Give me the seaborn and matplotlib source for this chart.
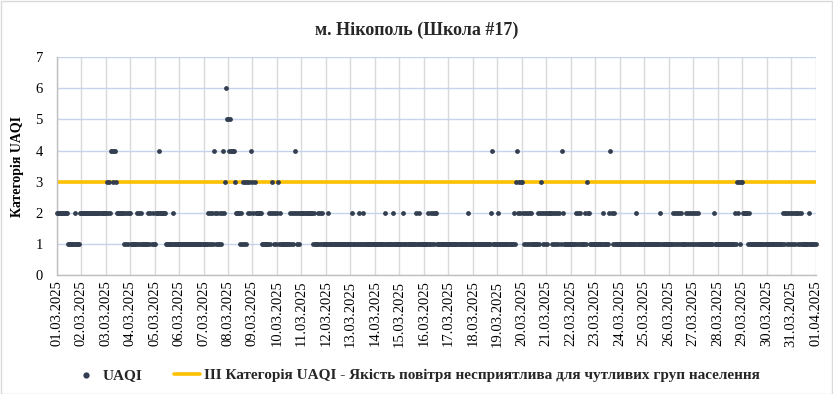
import pandas as pd
import seaborn as sns
import matplotlib.pyplot as plt
import matplotlib.dates as mdates

# hourly UAQI category, one string per day (24 hours, grouped by 6), 01.03 .. 31.03
uaqi_days = [
    "222222 222221 111111 211112",  # 01.03
    "222222 222222 222222 222222",
    "232324 434432 222222 121212",
    "211111 121212 111111 212121",
    "122242 222221 111111 211111",
    "111111 111111 111111 111111",
    "111121 212142 121121 242365",
    "545444 432222 121313 132324",
    "323222 222111 111121 232121",
    "231211 111111 121212 421212",
    "222222 222221 211121 212111",  # 11.03
    "112111 111111 111111 111111",
    "112111 112111 211111 111111",
    "111111 111121 111111 211111",
    "111121 111111 111121 121111",
    "111121 121212 211111 111111",
    "111111 111111 111111 121111",
    "111111 111111 111111 241111",
    "121111 111111 111121 342323",
    "321212 121211 111121 232121",
    "212222 121212 121421 111111",  # 21.03
    "111112 121211 112132 211111",
    "111111 112111 112421 211111",
    "111111 111111 111121 111111",
    "111111 111111 111121 111111",
    "111121 212121 211112 121212",
    "121212 111111 111111 112111",
    "111111 111111 111112 132313",
    "322222 121111 111111 111111",
    "111111 111111 111121 221212",
    "121212 212121 111111 211111",  # 31.03
]
uaqi_last = [1]  # 01.04 00:00
threshold = 3

title = "м. Нікополь (Школа #17)"
y_label = "Категорія UAQI"
series_label = "UAQI"
threshold_label = "III Категорія UAQI - Якість повітря несприятлива для чутливих груп населення"

values = [int(c) for day in uaqi_days for c in day.replace(" ", "")] + uaqi_last
df = pd.DataFrame({
    "time": pd.date_range("2025-03-01", periods=len(values), freq="h"),
    "UAQI": values,
})

sns.set_theme(style="white")
plt.rcParams["font.family"] = ["Liberation Serif", "DejaVu Serif"]

fig = plt.figure(figsize=(8.33, 3.94), dpi=100)
ax = fig.add_axes([0.068, 0.302, 0.911, 0.553])

ax.axhline(threshold, color="#FFC000", linewidth=2.6, label=threshold_label, zorder=2)
sns.scatterplot(data=df, x="time", y="UAQI", ax=ax, s=12, color="#333F50",
                linewidth=0, label=series_label, zorder=3, clip_on=False)

ax.set_xlim(pd.Timestamp("2025-03-01"), pd.Timestamp("2025-04-01"))
ax.set_ylim(0, 7)
ax.set_yticks(range(0, 8))
ax.xaxis.set_major_locator(mdates.DayLocator())
ax.xaxis.set_major_formatter(mdates.DateFormatter("%d.%m.%Y"))
ax.tick_params(axis="x", labelrotation=90, labelsize=10.5, length=0, pad=4, colors="black")
ax.tick_params(axis="y", labelsize=10.5, length=0, pad=10, colors="black")

ax.grid(axis="x", color="#D9D9D9", linewidth=1)
ax.grid(axis="y", color="#C5D3EC", linewidth=1)
ax.set_axisbelow(True)
for side in ["top", "right"]:
    ax.spines[side].set_visible(False)
for side in ["left", "bottom"]:
    ax.spines[side].set_color("#BFBFBF")
    ax.spines[side].set_linewidth(1)

ax.set_xlabel("")
ax.set_ylabel(y_label, fontsize=10, fontweight="bold", labelpad=8, color="black")
fig.suptitle(title, fontsize=13, fontweight="bold", y=0.945)

handles, labels = ax.get_legend_handles_labels()
ax.get_legend().remove()
order = [labels.index(series_label), labels.index(threshold_label)]
fig.legend([handles[i] for i in order], [labels[i] for i in order],
           loc="center", bbox_to_anchor=(0.5, 0.048), ncol=2, frameon=False,
           prop={"weight": "bold", "size": 11}, handlelength=1.7, handletextpad=0.25,
           columnspacing=2.1, markerscale=1.3)

fig.patches.append(plt.Rectangle((0.001, 0.001), 0.998, 0.997, transform=fig.transFigure,
                                 fill=False, edgecolor="#D9D9D9", linewidth=1))

plt.savefig("out.png", dpi=100)
